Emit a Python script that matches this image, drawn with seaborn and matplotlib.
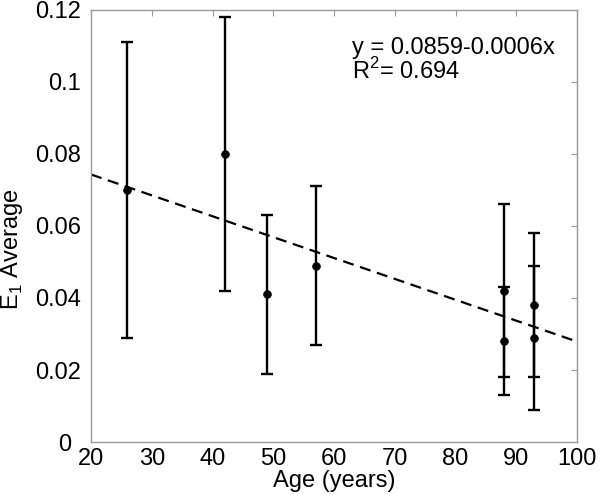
import numpy as np
import pandas as pd
import matplotlib
matplotlib.use("Agg")
import matplotlib.pyplot as plt
import matplotlib.transforms as mtransforms
import seaborn as sns

age = [26, 42, 49, 57, 88, 88, 93, 93]
e1_mean = [0.070, 0.080, 0.041, 0.049, 0.042, 0.028, 0.038, 0.029]
e1_err = [0.041, 0.038, 0.022, 0.022, 0.024, 0.015, 0.020, 0.020]
fit_intercept = 0.0859
fit_slope = -0.00058
fit_x = [20, 100]
eq_label = "y = 0.0859-0.0006x"
r2_label = "R$^2$= 0.694"
xticks = [20, 30, 40, 50, 60, 70, 80, 90, 100]
yticks = [0, 0.02, 0.04, 0.06, 0.08, 0.1, 0.12]
ytick_labels = ["0", "0.02", "0.04", "0.06", "0.08", "0.1", "0.12"]

sns.set_style("white")
plt.rcParams['font.family'] = ['Liberation Sans', 'DejaVu Sans']
plt.rcParams['mathtext.fontset'] = 'custom'
plt.rcParams['mathtext.rm'] = 'Liberation Sans'
plt.rcParams['text.color'] = 'black'
plt.rcParams['axes.labelcolor'] = 'black'
plt.rcParams['xtick.labelcolor'] = 'black'
plt.rcParams['ytick.labelcolor'] = 'black'

FS = 17
fig = plt.figure(figsize=(6, 4.95), dpi=100)
ax = fig.add_axes([0.1517, 0.107, 0.81, 0.873])

df = pd.DataFrame({"age": age, "mean": e1_mean, "err": e1_err})
fit_df = pd.DataFrame({"x": fit_x, "y": [fit_intercept + fit_slope * v for v in fit_x]})

sns.lineplot(data=fit_df, x="x", y="y", ax=ax, color="black", linestyle=(0, (5, 3)), linewidth=1.6)
ax.errorbar(df["age"], df["mean"], yerr=df["err"], fmt="none", ecolor="black",
            elinewidth=1.7, capsize=4.5, capthick=1.7)
sns.scatterplot(data=df, x="age", y="mean", ax=ax, color="black", s=32, edgecolor="black", zorder=5)

ax.set_xlim(20, 100)
ax.set_ylim(0, 0.12)
ax.set_xticks(xticks)
ax.set_yticks(yticks)
ax.set_yticklabels(ytick_labels)
ax.tick_params(direction="in", length=4, color="#999999", labelsize=FS,
               labelcolor="black", top=True, right=True)
ax.tick_params(axis="y", pad=7)
ax.tick_params(axis="x", pad=4)
for s in ax.spines.values():
    s.set_color("#999999")
    s.set_linewidth(1.0)

# shift the "0" label left so it clears the "20" label (as in the reference)
zero_lbl = ax.get_yticklabels()[0]
zero_lbl.set_transform(zero_lbl.get_transform() +
                       mtransforms.ScaledTranslation(-10 / 100, 0, fig.dpi_scale_trans))

ax.set_xlabel("Age (years)", fontsize=FS, labelpad=0, color="black")
ax.set_ylabel("E$_1$ Average", fontsize=FS, color="black")
ax.yaxis.set_label_coords(-0.135, 0.445)

ax.text(0.537, 0.912, eq_label, transform=ax.transAxes, fontsize=FS, va="center", color="black")
ax.text(0.537, 0.858, r2_label, transform=ax.transAxes, fontsize=FS, va="center", color="black")

fig.savefig("out.png", dpi=100)
